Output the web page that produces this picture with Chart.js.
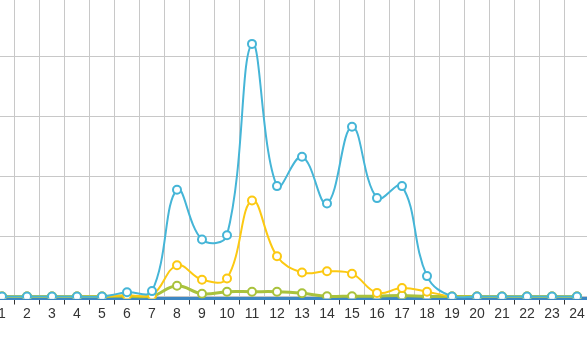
<!DOCTYPE html>
<html>
<head>
<meta charset="utf-8">
<script src="https://cdn.jsdelivr.net/npm/chart.js@4/dist/chart.umd.min.js"></script>
<style>
  html, body { margin: 0; padding: 0; background: #fff; overflow: hidden; }
  body { width: 587px; height: 337px; position: relative; }
  /* the plot runs a little past the window edges on every side */
  #wrap { position: absolute; left: -40px; top: -20px; width: 667px; height: 377px; }
</style>
</head>
<body>
<div id="wrap"><canvas id="lineChart"></canvas></div>
<script>
const hours = ['1', '2', '3', '4', '5', '6', '7', '8', '9', '10', '11', '12',
  '13', '14', '15', '16', '17', '18', '19', '20', '21', '22', '23', '24'];

const blueSeries = [0, 0, 0, 0, 0, 7, 9, 178, 95, 102, 421, 184, 233, 155, 283, 164, 184, 34, 0, 0, 0, 0, 0, 0];
const yellowSeries = [0, 0, 0, 0, 0, 2, 2, 52, 28, 30, 160, 67, 40, 42, 38, 6, 14, 8, 0, 0, 0, 0, 0, 0];
const oliveSeries = [0, 0, 0, 0, 0, 0.5, 0.5, 18, 4.5, 8, 8, 8, 5.5, 0.5, 0.5, 0.5, 1.7, 0, 0, 0, 0, 0, 0, 0];

const yTicks = [0, 100, 200, 300, 400];

function lineSet(data, color, width) {
  return {
    data: data,
    borderColor: color,
    backgroundColor: '#fff',
    pointBackgroundColor: '#fff',
    pointBorderColor: color,
    pointBorderWidth: 2,
    pointRadius: 4,
    borderWidth: width,
    tension: 0.4,
    fill: false
  };
}

const ctx = document.getElementById('lineChart').getContext('2d');
const chart = new Chart(ctx, {
  type: 'line',
  data: {
    labels: hours,
    datasets: [
      lineSet(blueSeries, '#45b5d7', 2),
      lineSet(yellowSeries, '#fcc912', 2),
      lineSet(oliveSeries, '#a9c23c', 3)
    ]
  },
  options: {
    responsive: true,
    maintainAspectRatio: false,
    animation: false,
    layout: { padding: { left: 29.5, right: 37.5, top: 16.5, bottom: 18.5 } },
    plugins: { legend: { display: false }, tooltip: { enabled: false } },
    scales: {
      x: {
        offset: true,
        grid: {
          offset: true,
          color: '#c8c8c8',
          lineWidth: 1,
          tickColor: '#333',
          tickLength: 6
        },
        border: { display: true, color: '#3d88c4', width: 3 },
        ticks: {
          color: '#333',
          padding: 1,
          maxRotation: 0,
          autoSkip: false,
          font: { family: "'Liberation Sans', Arial, sans-serif", size: 14 }
        },
        afterFit: scale => { scale.height = 40; }
      },
      y: {
        min: -3.33,
        max: 500,
        grid: { color: '#c8c8c8', lineWidth: 1, drawTicks: false },
        border: { display: false },
        ticks: { display: false },
        afterBuildTicks: scale => { scale.ticks = yTicks.map(v => ({ value: v })); },
        afterFit: scale => { scale.width = 0; }
      }
    }
  }
});
</script>
</body>
</html>
